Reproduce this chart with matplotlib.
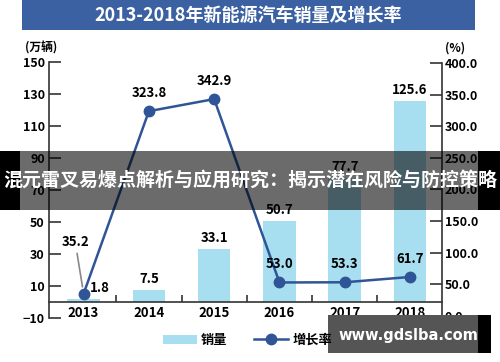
import numpy as np
import matplotlib.pyplot as plt
from matplotlib.patches import Rectangle, Patch
from matplotlib.lines import Line2D

plt.rcParams['font.family'] = ['Noto Sans CJK SC', 'DejaVu Sans']
plt.rcParams['font.weight'] = 'bold'

years = ['2013', '2014', '2015', '2016', '2017', '2018']
sales = [1.8, 7.5, 33.1, 50.7, 77.7, 125.6]       # 万辆
growth = [35.2, 323.8, 342.9, 53.0, 53.3, 61.7]   # %
title = '2013-2018年新能源汽车销量及增长率'
banner = '混元雷叉易爆点解析与应用研究：揭示潜在风险与防控策略'
site = 'www.gdslba.com'

bar_c = '#a8dff0'
line_c = '#2f5597'
spine_c = '#333333'

fig = plt.figure(figsize=(5, 3.62), dpi=100)
fig.patch.set_facecolor('white')

# title band
fig.patches.append(Rectangle((0.044, 0.917), 0.906, 0.083, transform=fig.transFigure,
                             facecolor='#3b61a3', edgecolor='none', zorder=0))
fig.text(0.497, 0.958, title, color='white', fontsize=13, fontweight='bold',
         ha='center', va='center')

ax = fig.add_axes([0.098, 0.1215, 0.786, 0.707])
ax2 = ax.twinx()
x = np.arange(len(years))

ax.bar(x, sales, width=0.5, color=bar_c, zorder=2)
for xi, v in zip(x, sales):
    dx = 0.25 if xi == 0 else 0   # keep 2013 label clear of the marker
    ax.annotate(f'{v:.1f}', (xi + dx, v), xytext=(0, 3), textcoords='offset points',
                ha='center', va='bottom', fontsize=9.5, fontweight='bold')

ax.set_xlim(-0.53, 5.49)
ax.set_ylim(-10, 150)
ax.set_yticks(range(-10, 151, 20))
ax.set_xticks(x, years)
ax.set_xticks(np.arange(0.5, 5, 1), minor=True)
ax.tick_params(axis='y', direction='in', length=8.5, width=1.2, color=spine_c,
               labelsize=9, pad=3)
ax.tick_params(axis='x', which='major', length=0, labelsize=9.5, pad=3)
ax.tick_params(axis='x', which='minor', direction='in', length=5, width=1.2, color=spine_c)
for s in ['top', 'right']:
    ax.spines[s].set_visible(False)
ax.spines['bottom'].set_position(('data', 0))
ax.spines['left'].set_bounds(-10, 150)
for s in ['left', 'bottom']:
    ax.spines[s].set_color(spine_c)
    ax.spines[s].set_linewidth(1.2)

ax2.plot(x, growth, color=line_c, lw=1.8, marker='o', ms=7.5, zorder=3)
ax2.set_ylim(-3.2, 401.4)
ax2.set_yticks(range(0, 401, 50))
ax2.set_yticklabels([f'{v:.1f}' for v in range(0, 401, 50)])
ax2.tick_params(axis='y', direction='in', length=8.5, width=1.2, color=spine_c,
                labelsize=9, pad=2)
for s in ['top', 'left', 'bottom']:
    ax2.spines[s].set_visible(False)
ax2.spines['right'].set_bounds(0, 400)
ax2.spines['right'].set_color(spine_c)
ax2.spines['right'].set_linewidth(1.2)

offsets = [(-6, 32), (0, 8), (0, 8), (0, 8), (0, 8), (0, 8)]
for i, (v, off) in enumerate(zip(growth, offsets)):
    if i == 0:
        ax2.annotate(f'{v:.1f}', (x[i], v), xytext=off, textcoords='offset points',
                     ha='center', va='bottom', fontsize=9.5, fontweight='bold',
                     arrowprops=dict(arrowstyle='-', color='#888888', lw=1.2,
                                     shrinkA=1, shrinkB=5))
    else:
        ax2.annotate(f'{v:.1f}', (x[i], v), xytext=off, textcoords='offset points',
                     ha='center', va='bottom', fontsize=9.5, fontweight='bold')

fig.text(0.05, 0.867, '(万辆)', fontsize=8.5, ha='left', va='center')
fig.text(0.89, 0.867, '(%)', fontsize=8.5, ha='left', va='center')

handles = [Patch(facecolor=bar_c, edgecolor='none'),
           Line2D([0], [0], color=line_c, lw=1.8, marker='o', ms=7.5)]
fig.legend(handles, ['销量', '增长率'], loc='center', bbox_to_anchor=(0.495, 0.061),
           ncol=2, frameon=False, fontsize=9.5, handlelength=2.6,
           handletextpad=0.3, columnspacing=2.0)

# overlay banner
fig.patches.append(Rectangle((0, 0.42), 1, 0.163, transform=fig.transFigure,
                             facecolor='black', alpha=0.58, edgecolor='none', zorder=5))
fig.patches.append(Rectangle((0, 0.42), 0.04, 0.163, transform=fig.transFigure,
                             facecolor='black', edgecolor='none', zorder=5))
fig.patches.append(Rectangle((0.956, 0.42), 0.044, 0.163, transform=fig.transFigure,
                             facecolor='black', edgecolor='none', zorder=5))
fig.text(0.5, 0.503, banner, color='white', fontsize=13.7, fontweight='bold',
         ha='center', va='center', zorder=6)

# watermark
fig.patches.append(Rectangle((0.656, 0.025), 0.3, 0.105, transform=fig.transFigure,
                             facecolor='#555555', edgecolor='none', zorder=5))
fig.patches.append(Rectangle((0.956, 0.025), 0.026, 0.105, transform=fig.transFigure,
                             facecolor='black', edgecolor='none', zorder=5))
fig.text(0.817, 0.072, site, color='white', fontsize=10.5, fontweight='bold',
         family='DejaVu Sans', ha='center', va='center', zorder=6)

fig.savefig('out.png', dpi=100)
